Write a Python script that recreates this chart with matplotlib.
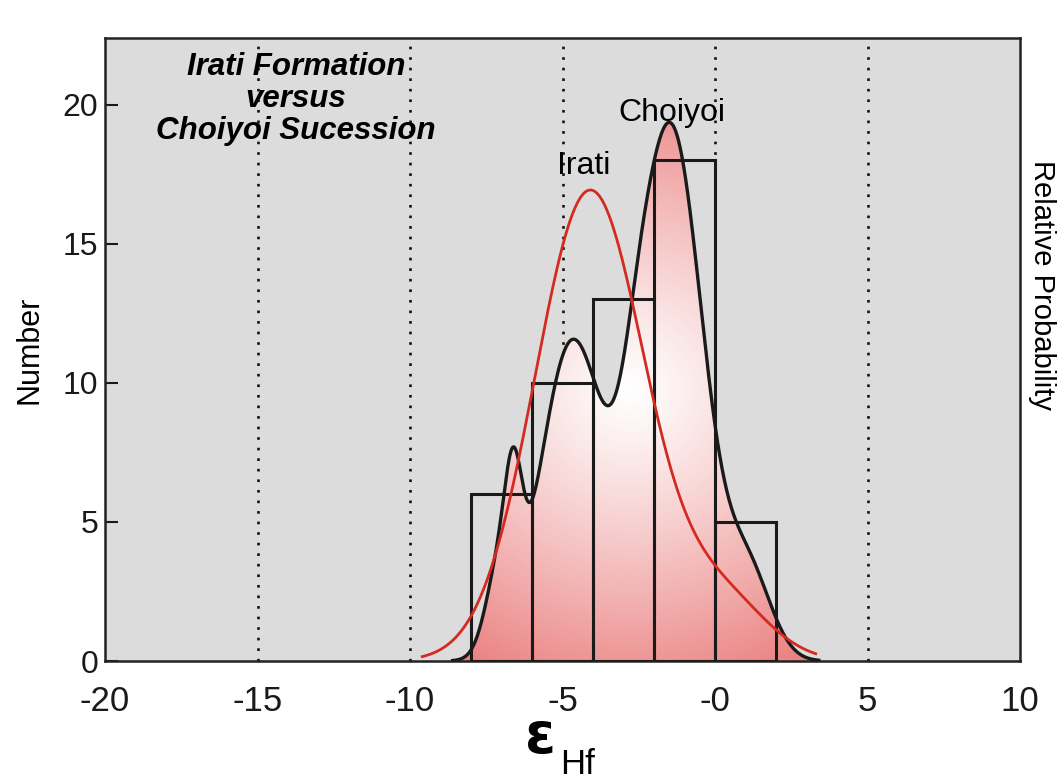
import numpy as np
import matplotlib
matplotlib.use('Agg')
import matplotlib.pyplot as plt
from matplotlib.patches import Polygon

plt.rcParams['font.family'] = ['Liberation Sans', 'DejaVu Sans']

# eHf histogram, bin width 2
bin_left = [-8, -6, -4, -2, 0]
counts = [6, 10, 13, 18, 5]
bin_width = 2

# relative probability curves as gaussian components: centre, sigma, height
choiyoi_centre = [-7.05, -6.6, -4.69, -2.6, -1.44, 1.1]
choiyoi_sigma = [0.45, 0.28, 1.05, 0.5, 1.05, 0.75]
choiyoi_height = [3.0, 3.7, 11.4, 2.0, 19.1, 3.0]

irati_centre = [-4.1, 0.2]
irati_sigma = [1.8, 1.5]
irati_height = [16.9, 2.2]

xticks = [-20, -15, -10, -5, 0, 5, 10]
xtick_labels = ['-20', '-15', '-10', '-5', '-0', '5', '10']
yticks = [0, 5, 10, 15, 20]
guides = [-15, -10, -5, 0, 5]


def curve(x, centres, sigmas, heights):
    y = np.zeros_like(x)
    for c, s, h in zip(centres, sigmas, heights):
        y += h * np.exp(-(x - c) ** 2 / (2 * s ** 2))
    return y


fig = plt.figure(figsize=(10.62, 7.81), dpi=100)
ax = fig.add_axes([0.0989, 0.1536, 0.8616, 0.7977])
ax.set_facecolor('#dcdcdc')

# dotted guides
ax.vlines(guides, 0, 22.4, colors='#111111', linestyles=(0, (1, 3)), lw=1.9, zorder=1)

# Choiyoi probability curve with radial pink gradient fill
xc = np.linspace(-8.6, 3.4, 800)
yc = curve(xc, choiyoi_centre, choiyoi_sigma, choiyoi_height)
verts = np.column_stack([np.r_[xc, xc[-1], xc[0]], np.r_[yc, 0, 0]])
poly = Polygon(verts, closed=True, facecolor='none', edgecolor='none',
               transform=ax.transData)
ax.add_patch(poly)

gx = np.linspace(-9, 4, 500)
gy = np.linspace(0, 20, 500)
GX, GY = np.meshgrid(gx, gy)
d = np.hypot((GX + 2.8) * 30.5, (GY - 9.7) * 27.85) / 320
t = np.clip(d, 0, 1) ** 1.15
edge = np.array([0.92, 0.50, 0.50])
rgb = 1 - t[..., None] * (1 - edge)
im = ax.imshow(rgb, extent=(-9, 4, 0, 20), origin='lower', aspect='auto',
               interpolation='bilinear', zorder=2)
im.set_clip_path(poly)

ax.bar(bin_left, counts, width=bin_width, align='edge', fill=False,
       edgecolor='#1a1a1a', lw=2.2, zorder=3)

ax.plot(xc, yc, color='#1a1a1a', lw=2.4, zorder=4)

xi = np.linspace(-9.6, 3.3, 700)
ax.plot(xi, curve(xi, irati_centre, irati_sigma, irati_height),
        color='#d42a20', lw=2.0, zorder=4)

ax.set_xlim(-20, 10)
ax.set_ylim(0, 22.4)
ax.set_xticks(xticks, xtick_labels)
ax.set_yticks(yticks)
ax.tick_params(axis='x', length=0, pad=17, labelsize=25, colors='#1a1a1a')
ax.tick_params(axis='y', direction='in', length=9, width=1.5, pad=5,
               labelsize=23, colors='#1a1a1a')
for sp in ax.spines.values():
    sp.set_linewidth(1.8)
    sp.set_color('#222222')

ax.set_ylabel('Number', fontsize=22, labelpad=13)
ax.text(1.0085, 0.6035, 'Relative Probability', transform=ax.transAxes,
        rotation=270, fontsize=21, ha='left', va='center')

# epsilon Hf axis label
fig.text(0.509, 0.036, 'ε', fontsize=40, fontweight='bold', family='DejaVu Sans',
         ha='center', va='baseline')
fig.text(0.527, 0.009, 'Hf', fontsize=25, ha='left', va='baseline')

ax.text(-13.74, 20.2, 'Irati Formation\nversus\nChoiyoi Sucession',
        fontsize=22.5, fontweight='bold', fontstyle='italic',
        ha='center', va='center', linespacing=1.08)
ax.text(-4.3, 17.8, 'Irati', fontsize=23, ha='center', va='center')
ax.text(-1.41, 19.7, 'Choiyoi', fontsize=23, ha='center', va='center')

fig.savefig('out.png', dpi=100)
